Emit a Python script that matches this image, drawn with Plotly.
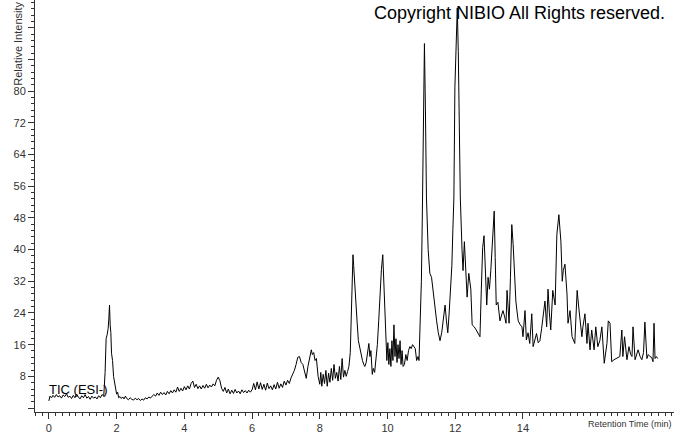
import plotly.graph_objects as go

# Retention time (min) and relative intensity
rt = [0.00, 0.03, 0.08, 0.12, 0.17, 0.22, 0.27, 0.32, 0.37, 0.42, 0.47, 0.52, 0.57, 0.62, 0.67, 0.72, 0.77, 0.82,
      0.87, 0.92, 0.97, 1.02, 1.07, 1.12, 1.17, 1.22, 1.27, 1.32, 1.37, 1.42, 1.47, 1.52, 1.57, 1.62,
      1.66, 1.69, 1.72, 1.75, 1.77, 1.79, 1.81, 1.83, 1.85, 1.88, 1.91, 1.94, 1.97, 2.00, 2.03, 2.06, 2.10,
      2.14, 2.18, 2.22, 2.26, 2.30, 2.35, 2.40, 2.45, 2.50, 2.55, 2.60, 2.65, 2.70, 2.75, 2.80, 2.85, 2.90,
      2.95, 3.00, 3.05, 3.10, 3.15, 3.20, 3.25, 3.30, 3.35, 3.40, 3.45, 3.50, 3.55, 3.60, 3.65, 3.70, 3.75,
      3.80, 3.85, 3.90, 3.95, 4.00, 4.05, 4.10, 4.15, 4.20, 4.25, 4.30, 4.35, 4.40, 4.45, 4.50, 4.55, 4.60,
      4.65, 4.70, 4.75, 4.80, 4.85, 4.90, 4.95, 5.00, 5.05, 5.10, 5.15, 5.20, 5.25, 5.30, 5.35, 5.40, 5.45,
      5.50, 5.55, 5.60, 5.65, 5.70, 5.75, 5.80, 5.85, 5.90, 5.95, 6.00, 6.05, 6.10, 6.15, 6.20, 6.25, 6.30,
      6.35, 6.40, 6.45, 6.50, 6.55, 6.60, 6.65, 6.70, 6.75, 6.80, 6.85, 6.90, 6.95, 7.00, 7.05, 7.10, 7.15,
      7.20, 7.25, 7.30, 7.35, 7.40, 7.45, 7.50, 7.55, 7.60, 7.65, 7.70, 7.75, 7.78, 7.82, 7.86, 7.90, 7.95,
      8.00, 8.03, 8.06, 8.10, 8.14, 8.18, 8.22, 8.26, 8.30, 8.34, 8.38, 8.42, 8.46, 8.50, 8.54, 8.58, 8.62,
      8.66, 8.70, 8.74, 8.78, 8.82, 8.86, 8.90, 8.93, 8.96, 8.98, 9.00, 9.03, 9.06, 9.10, 9.14, 9.18, 9.22,
      9.26, 9.30, 9.33, 9.37, 9.41, 9.45, 9.48, 9.51, 9.55, 9.58, 9.62, 9.66, 9.70, 9.74, 9.78, 9.82, 9.86,
      9.88, 9.91, 9.95, 9.98, 10.01, 10.04, 10.07, 10.10, 10.13, 10.16, 10.19, 10.22, 10.25, 10.28, 10.31,
      10.34, 10.37, 10.40, 10.43, 10.46, 10.50, 10.54, 10.58, 10.62, 10.66, 10.70, 10.74, 10.78, 10.82,
      10.86, 10.90, 10.93, 10.97, 11.00, 11.03, 11.06, 11.09, 11.12, 11.15, 11.20, 11.25, 11.30, 11.35,
      11.40, 11.45, 11.50, 11.55, 11.60, 11.65, 11.70, 11.74, 11.78, 11.82, 11.86, 11.90, 11.93, 11.96,
      11.99, 12.03, 12.06, 12.09, 12.12, 12.15, 12.20, 12.23, 12.27, 12.31, 12.35, 12.40, 12.46, 12.50,
      12.56, 12.62, 12.67, 12.73, 12.77, 12.81, 12.85, 12.89, 12.93, 12.97, 13.01, 13.05, 13.10, 13.15,
      13.18, 13.21, 13.26, 13.32, 13.37, 13.41, 13.46, 13.50, 13.53, 13.56, 13.59, 13.63, 13.67, 13.71,
      13.75, 13.79, 13.83, 13.86, 13.92, 13.97, 14.00, 14.06, 14.10, 14.15, 14.20, 14.26, 14.30, 14.35,
      14.40, 14.45, 14.50, 14.55, 14.60, 14.65, 14.70, 14.74, 14.78, 14.82, 14.88, 14.92, 14.95, 15.00,
      15.06, 15.12, 15.16, 15.19, 15.24, 15.30, 15.33, 15.39, 15.45, 15.53, 15.60, 15.64, 15.68, 15.74,
      15.77, 15.83, 15.89, 15.92, 15.98, 16.03, 16.10, 16.15, 16.21, 16.27, 16.33, 16.40, 16.48, 16.52,
      16.57, 16.62, 16.69, 16.77, 16.86, 16.92, 16.95, 17.00, 17.07, 17.13, 17.18, 17.22, 17.25, 17.31,
      17.36, 17.40, 17.46, 17.51, 17.56, 17.60, 17.66, 17.70, 17.75, 17.80, 17.84, 17.87, 17.90, 17.94, 17.98]

intensity = [1.8, 3.0, 2.6, 3.2, 2.7, 3.4, 2.8, 3.1, 2.5, 3.3, 2.9, 3.6, 2.7, 3.0, 2.4, 3.2, 2.6, 3.5,
             2.8, 2.3, 3.1, 2.6, 3.4, 2.5, 2.9, 2.2, 3.0, 2.5, 2.8, 2.3, 3.1, 2.6, 3.4, 3.0,
             9.0, 17.5, 18.5, 20.0, 22.5, 26.0, 21.0, 19.0, 13.8, 12.0, 8.0, 6.0, 4.5, 3.5, 4.0, 2.6, 2.9,
             2.4, 2.8, 2.3, 3.0, 2.4, 2.1, 2.6, 2.2, 2.0, 2.5, 2.1, 2.4, 1.9, 2.3, 2.0, 2.6, 2.3,
             2.8, 2.5, 3.0, 3.4, 3.0, 3.8, 3.2, 4.0, 3.4, 3.9, 3.3, 4.2, 3.6, 4.4, 3.8, 4.6, 4.0,
             5.3, 4.2, 5.0, 4.3, 5.4, 4.6, 5.6, 4.8, 6.2, 6.8, 5.2, 6.0, 4.9, 5.6, 4.8, 5.7, 5.0,
             6.0, 5.1, 5.8, 5.3, 6.1, 5.6, 7.0, 7.8, 6.9, 5.0, 4.2, 5.2, 3.8, 4.8, 3.6, 4.5, 3.7,
             4.7, 3.8, 4.3, 3.6, 4.6, 3.9, 4.4, 3.8, 4.5, 4.0, 4.6, 6.2, 4.6, 6.6, 4.8, 6.4, 4.7,
             6.0, 4.5, 6.3, 4.9, 5.6, 4.6, 5.9, 4.8, 6.5, 5.0, 6.1, 5.2, 6.8, 5.8, 7.0, 6.2, 7.6,
             8.4, 9.5, 11.0, 12.8, 13.0, 11.5, 11.0, 9.5, 7.5, 10.5, 12.5, 14.7, 13.5, 14.0, 12.0, 12.5, 8.0,
             6.0, 9.0, 5.5, 8.5, 6.2, 9.5, 5.5, 8.8, 6.5, 10.0, 7.0, 11.0, 7.5, 9.0, 6.8, 10.5, 7.2,
             12.5, 7.8, 9.5, 8.0, 9.2, 10.5, 14.0, 25.0, 36.0, 38.7, 36.0, 31.0, 28.0, 22.0, 17.0, 15.0, 13.0,
             12.0, 11.0, 10.5, 11.5, 14.0, 16.3, 13.0, 14.5, 8.5, 10.0, 9.0, 12.0, 16.0, 22.0, 30.0, 35.0, 38.7,
             34.0, 24.0, 16.3, 12.0, 16.5, 11.0, 15.0, 10.5, 17.0, 12.0, 21.0, 13.0, 17.5, 11.5, 16.0,
             12.5, 17.0, 11.0, 14.5, 10.5, 11.0, 13.5, 12.0, 14.5, 15.5, 15.0, 16.0, 15.5, 15.0,
             12.0, 13.0, 12.0, 22.0, 32.0, 50.0, 78.0, 92.0, 75.0, 53.0, 40.0, 34.0, 33.0, 29.0,
             25.5, 22.0, 19.0, 17.0, 19.0, 22.0, 26.0, 22.0, 19.0, 24.0, 30.0, 36.0, 45.0, 53.0,
             81.0, 95.0, 101.0, 90.0, 75.0, 53.0, 40.0, 34.7, 42.0, 36.0, 28.0, 34.0, 30.0, 21.0,
             20.5, 19.7, 19.0, 18.0, 30.0, 40.5, 43.5, 32.0, 26.0, 33.0, 30.0, 34.7, 42.0, 49.7,
             38.0, 26.0, 26.7, 22.0, 23.5, 24.6, 23.0, 21.4, 29.7, 26.0, 21.4, 33.0, 46.3, 41.3,
             34.0, 27.0, 24.0, 22.0, 21.0, 20.5, 18.0, 24.6, 17.2, 19.0, 16.3, 23.8, 15.5, 17.0,
             18.8, 16.5, 17.0, 20.0, 23.0, 27.0, 20.5, 30.0, 24.0, 19.7, 29.7, 27.0, 26.0, 43.7,
             48.8, 42.0, 32.0, 34.7, 36.3, 28.8, 21.4, 24.6, 18.0, 16.3, 29.7, 26.0, 23.0, 18.0,
             20.5, 23.8, 16.3, 21.4, 14.7, 19.7, 14.7, 20.5, 15.5, 17.0, 20.5, 11.3, 16.3, 22.0,
             21.4, 11.7, 12.2, 12.5, 13.0, 19.7, 13.0, 18.0, 12.2, 15.5, 13.5, 13.0, 20.5, 12.2,
             13.5, 14.7, 13.0, 12.2, 14.0, 21.7, 12.5, 13.5, 13.0, 12.8, 11.7, 21.4, 12.5, 13.0, 12.5]

x_tick_vals = [0, 2, 4, 6, 8, 10, 12, 14]
x_tick_text = ["0", "2", "4", "6", "8", "10", "12", "14"]
y_tick_vals = [0, 8, 16, 24, 32, 40, 48, 56, 64, 72, 80, 88, 96]
y_tick_text = ["", "8", "16", "24", "32", "40", "48", "56", "64", "72", "80", "", ""]

fig = go.Figure()
fig.add_trace(go.Scatter(x=rt, y=intensity, mode="lines",
                         line=dict(color="black", width=1), showlegend=False, hoverinfo="x+y"))

font_family = "Liberation Sans, Arial, sans-serif"

fig.update_layout(
    width=674, height=434,
    margin=dict(l=35, r=0, t=0, b=18),
    paper_bgcolor="white", plot_bgcolor="white",
    font=dict(family=font_family, size=11, color="#333"),
    xaxis=dict(range=[-0.41, 18.46], showgrid=False, zeroline=False, showline=True,
               linecolor="#333", linewidth=1, ticks="outside", ticklen=6, tickcolor="#333",
               tickmode="array", tickvals=x_tick_vals, ticktext=x_tick_text,
               tickfont=dict(size=11, color="#333"),
               minor=dict(ticks="outside", ticklen=3, dtick=0.2, tick0=0, tickcolor="#333", showgrid=False)),
    yaxis=dict(range=[-1, 103], showgrid=False, zeroline=False, showline=True,
               linecolor="#333", linewidth=1, ticks="outside", ticklen=6, tickcolor="#333",
               tickmode="array", tickvals=y_tick_vals, ticktext=y_tick_text,
               tickfont=dict(size=11, color="#333"),
               minor=dict(ticks="outside", ticklen=3, dtick=1.6, tick0=0, tickcolor="#333", showgrid=False)),
    annotations=[
        dict(text="Copyright NIBIO All Rights reserved.", xref="paper", yref="paper",
             x=0.989, y=0.969, xanchor="right", yanchor="middle", showarrow=False,
             font=dict(family=font_family, size=18, color="black")),
        dict(text="TIC (ESI-)", xref="paper", yref="paper",
             x=0.0188, y=0.0553, xanchor="left", yanchor="middle", showarrow=False,
             font=dict(family=font_family, size=13, color="black")),
        dict(text="Retention Time (min)", xref="paper", yref="paper",
             x=0.931, y=-0.029, xanchor="center", yanchor="middle", showarrow=False,
             font=dict(family=font_family, size=9, color="#333")),
        dict(text="Relative Intensity", xref="paper", yref="paper", textangle=-90,
             x=-0.027, y=1.0, xanchor="center", yanchor="top", showarrow=False,
             font=dict(family=font_family, size=11, color="#333")),
    ],
)

fig.write_html("out.html", config={"displayModeBar": False},
               post_script="document.body.style.margin='0';document.body.style.overflow='hidden';")
